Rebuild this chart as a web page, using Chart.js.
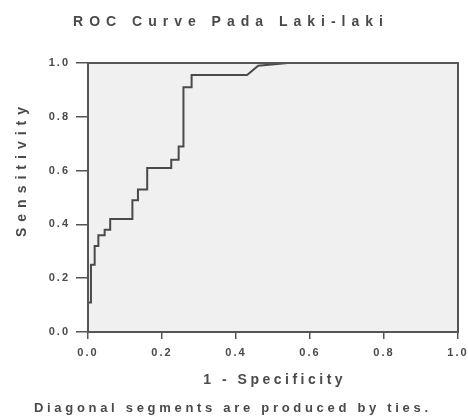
<!DOCTYPE html>
<html lang="id">
<head>
    <meta charset="UTF-8">
    <title>ROC Curve Pada Laki-laki</title>
    <script src="https://cdn.jsdelivr.net/npm/chart.js"></script>
    <style>
        body { margin: 0; padding: 0; background: #fff; }
        #wrap { width: 468px; height: 418px; }
    </style>
</head>
<body>
<div id="wrap"><canvas id="roc" width="468" height="418"></canvas></div>
<script>
    // data (1 - specificity, sensitivity)
    const fpr = [0.000, 0.000, 0.008, 0.008, 0.018, 0.018, 0.028, 0.028, 0.045, 0.045, 0.060, 0.060,
                 0.120, 0.120, 0.135, 0.135, 0.160, 0.160, 0.225, 0.225, 0.245, 0.245, 0.258, 0.258,
                 0.280, 0.280, 0.430, 0.460, 0.540, 1.000];
    const tpr = [0.000, 0.110, 0.110, 0.250, 0.250, 0.320, 0.320, 0.360, 0.360, 0.380, 0.380, 0.420,
                 0.420, 0.490, 0.490, 0.530, 0.530, 0.610, 0.610, 0.640, 0.640, 0.690, 0.690, 0.910,
                 0.910, 0.955, 0.955, 0.990, 1.000, 1.000];
    const tickLabels = ["0.0", "0.2", "0.4", "0.6", "0.8", "1.0"];

    const chartTitle = "ROC Curve Pada Laki-laki";
    const xTitle = "1 - Specificity";
    const yTitle = "Sensitivity";
    const footNote = "Diagonal segments are produced by ties.";

    const ink = "#4a4a4a";
    const fontFam = "'Liberation Sans', Arial, sans-serif";

    function spacedText(ctx, txt, x, y, spacing) {
        ctx.letterSpacing = spacing + "px";
        // trailing spacing is counted in the width, shift back half of it
        ctx.fillText(txt, x + spacing / 2, y);
    }

    const frameAndText = {
        id: "frameAndText",
        beforeDraw(chart) {
            const { ctx, chartArea: a } = chart;
            ctx.save();
            ctx.fillStyle = "#f0f0f0";
            ctx.fillRect(a.left, a.top, a.right - a.left, a.bottom - a.top);
            ctx.restore();
            ctx.letterSpacing = "2px"; // tick labels
        },
        afterDatasetsDraw(chart) {
            const { ctx, chartArea: a } = chart;
            ctx.save();
            ctx.strokeStyle = "#555";
            ctx.lineWidth = 2;
            ctx.strokeRect(a.left, a.top, a.right - a.left, a.bottom - a.top);
            ctx.restore();
        },
        afterDraw(chart) {
            const ctx = chart.ctx;
            ctx.save();
            ctx.fillStyle = ink;
            ctx.textAlign = "center";
            ctx.textBaseline = "middle";

            ctx.font = "bold 14px " + fontFam;
            spacedText(ctx, chartTitle, 228, 22, 6);

            ctx.font = "bold 14px " + fontFam;
            spacedText(ctx, xTitle, 273, 380, 3.5);

            ctx.font = "bold 13px " + fontFam;
            spacedText(ctx, footNote, 231, 408, 3.7);

            ctx.translate(22, 172);
            ctx.rotate(-Math.PI / 2);
            ctx.font = "bold 14px " + fontFam;
            spacedText(ctx, yTitle, 0, 0, 6);
            ctx.restore();
            ctx.letterSpacing = "0px";
        }
    };

    const points = fpr.map((v, i) => ({ x: v, y: tpr[i] }));

    new Chart(document.getElementById("roc"), {
        type: "scatter",
        data: {
            datasets: [{
                data: points,
                showLine: true,
                borderColor: ink,
                borderWidth: 2,
                pointRadius: 0,
                fill: false
            }]
        },
        options: {
            responsive: false,
            animation: false,
            layout: { padding: { top: 63, right: 10, left: 0, bottom: 0 } },
            plugins: {
                legend: { display: false },
                title: { display: false },
                tooltip: { enabled: false }
            },
            scales: {
                x: {
                    type: "linear",
                    min: 0, max: 1,
                    border: { display: false },
                    grid: { drawOnChartArea: false, tickLength: 7, color: "#555", lineWidth: 1.5 },
                    ticks: {
                        stepSize: 0.2,
                        padding: 7,
                        color: ink,
                        font: { family: fontFam, size: 11, weight: "bold" },
                        maxRotation: 0,
                        callback: (v, i) => tickLabels[i]
                    },
                    afterFit(s) {
                        s.height = 86;
                        s.paddingLeft = 0; s.paddingRight = 0;
                    }
                },
                y: {
                    type: "linear",
                    min: 0, max: 1,
                    border: { display: false },
                    grid: { drawOnChartArea: false, tickLength: 12, color: "#555", lineWidth: 1.5 },
                    ticks: {
                        stepSize: 0.2,
                        padding: 6,
                        color: ink,
                        font: { family: fontFam, size: 11, weight: "bold" },
                        callback: (v, i) => tickLabels[i]
                    },
                    afterFit(s) {
                        s.width = 88;
                        s.paddingTop = 0; s.paddingBottom = 0;
                    }
                }
            }
        },
        plugins: [frameAndText]
    });
</script>
</body>
</html>
